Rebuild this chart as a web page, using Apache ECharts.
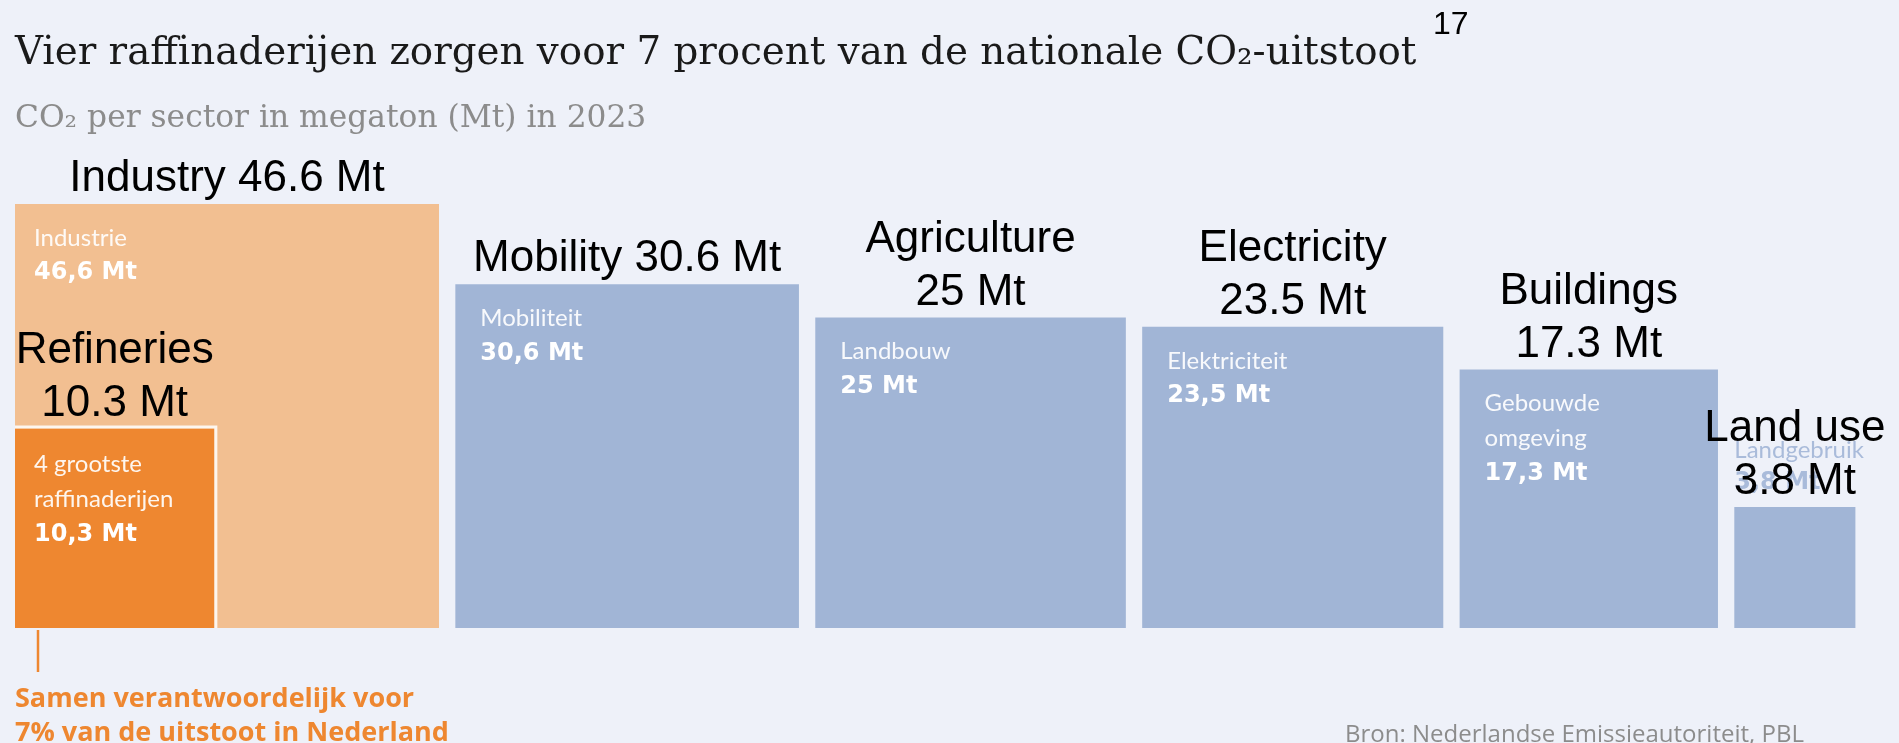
<!DOCTYPE html>
<html>
<head>
<meta charset="utf-8">
<script src="https://cdn.jsdelivr.net/npm/echarts@6/dist/echarts.min.js"></script>
<style>
html,body{margin:0;padding:0;background:#EEF1F9;}
#c{width:1899px;height:743px;}
</style>
</head>
<body>
<div id="c"></div>
<script>
// ---- data ----
const categories = ['Industrie', 'Mobiliteit', 'Landbouw', 'Elektriciteit', 'Gebouwde\nomgeving', 'Landgebruik'];
const emissionsMt = [46.6, 30.6, 25, 23.5, 17.3, 3.8];
const valueLabels = ['46,6 Mt', '30,6 Mt', '25 Mt', '23,5 Mt', '17,3 Mt', '3,8 Mt'];
const englishLabels = ['Industry 46.6 Mt', 'Mobility 30.6 Mt', 'Agriculture\n25 Mt', 'Electricity\n23.5 Mt', 'Buildings\n17.3 Mt', 'Land use\n3.8 Mt'];
const refineryCategory = '4 grootste\nraffinaderijen';
const refineryMt = [10.3];
const refineryValueLabel = '10,3 Mt';
const refineryEnglishLabel = 'Refineries\n10.3 Mt';

// ---- styles ----
const BG = '#EEF1F9';
const INDUSTRY_COLOR = '#F2BF91';
const SECTOR_COLOR = '#A1B5D6';
const REFINERY_COLOR = '#EE8730';
const GAP = 0.263; // gap between squares, in sqrt(Mt) units

// square side ∝ sqrt(value): area ∝ emissions
let cursor = 0;
const sectorData = emissionsMt.map((v, i) => {
  const side = Math.sqrt(v);
  const item = [cursor, side, i];
  cursor += side + GAP;
  return item;
});
const refineryData = refineryMt.map(v => [0, Math.sqrt(v), 0]);

const EN_FONT = '44px "Liberation Sans", Arial, sans-serif';
const IN_FONT = '24px Lato, "Open Sans", sans-serif';
const IN_FONT_B = 'bold 24px "DejaVu Sans", "Open Sans", sans-serif';

function englishLabelEls(text, cx, top) {
  const lines = text.split('\n');
  return lines.map((ln, k) => ({
    type: 'text',
    z2: 10,
    style: {
      text: ln, x: cx, y: top - 25 - (lines.length - 1 - k) * 53,
      fill: '#000', font: EN_FONT, align: 'center', verticalAlign: 'middle'
    }
  }));
}

function innerLabelEls(nameText, valueText, x, y, color, step) {
  const lines = nameText.split('\n');
  const els = lines.map((ln, k) => ({
    type: 'text',
    style: { text: ln, x: x, y: y + k * step, fill: color, opacity: 0.92, font: IN_FONT, align: 'left', verticalAlign: 'middle' }
  }));
  els.push({
    type: 'text',
    style: { text: valueText, x: x, y: y + lines.length * step, fill: color, font: IN_FONT_B, align: 'left', verticalAlign: 'middle' }
  });
  return els;
}

function renderSector(params, api) {
  const x0 = api.value(0), s = api.value(1), idx = api.value(2);
  const tl = api.coord([x0, s]);
  const br = api.coord([x0 + s, 0]);
  const w = br[0] - tl[0], h = br[1] - tl[1];
  const color = idx === 0 ? INDUSTRY_COLOR : SECTOR_COLOR;
  const children = [{
    type: 'rect',
    shape: { x: tl[0], y: tl[1], width: w, height: h },
    style: { fill: color }
  }];
  if (h < 150) {
    // too small: label sits above the square, in a light tint of its colour
    const lines = categories[idx].split('\n');
    const els = innerLabelEls(categories[idx], valueLabels[idx], tl[0], tl[1] - 24 - lines.length * 33, '#A9BBDA', 33);
    els.forEach(e => { e.style.opacity = 1; });
    children.push(...els);
  } else {
    const pad = idx === 0 ? 19 : 25;
    children.push(...innerLabelEls(categories[idx], valueLabels[idx], tl[0] + pad, tl[1] + 34, '#FFFFFF', 35));
  }
  children.push(...englishLabelEls(englishLabels[idx], tl[0] + w / 2, tl[1]));
  return { type: 'group', children };
}

function renderRefinery(params, api) {
  const x0 = api.value(0), s = api.value(1);
  const tl = api.coord([x0, s]);
  const br = api.coord([x0 + s, 0]);
  const w = br[0] - tl[0], h = br[1] - tl[1];
  const children = [
    { type: 'rect', shape: { x: tl[0], y: tl[1], width: w, height: h }, style: { fill: REFINERY_COLOR } },
    { type: 'polyline', shape: { points: [[tl[0], tl[1] - 1.5], [br[0] + 1.5, tl[1] - 1.5], [br[0] + 1.5, br[1]]] },
      style: { stroke: 'rgba(255,255,255,0.85)', lineWidth: 3, fill: null } }
  ];
  children.push(...innerLabelEls(refineryCategory, refineryValueLabel, tl[0] + 19, tl[1] + 36, '#FFFFFF', 35));
  children.push(...englishLabelEls(refineryEnglishLabel, tl[0] + w / 2, tl[1]));
  return { type: 'group', children };
}

const chart = echarts.init(document.getElementById('c'), null, { renderer: 'canvas' });
chart.setOption({
  backgroundColor: BG,
  animation: false,
  grid: { left: 15, right: 20.6, top: 131, bottom: 115 },
  xAxis: { type: 'value', min: 0, max: 30, show: false },
  yAxis: { type: 'value', min: 0, max: 8, show: false },
  series: [
    { type: 'custom', name: 'sectors', renderItem: renderSector, data: sectorData, z: 2, clip: false,
      encode: { x: [0], y: [1] } },
    { type: 'custom', name: 'refineries', renderItem: renderRefinery, data: refineryData, z: 3, clip: false,
      encode: { x: [0], y: [1] } }
  ],
  graphic: [
    { type: 'text', x: 15, y: 54, style: { text: 'Vier raffinaderijen zorgen voor 7 procent van de nationale CO\u2082-uitstoot',
      fill: '#1a1a1a', font: '38.8px "DejaVu Serif", "Liberation Serif", serif', verticalAlign: 'middle' } },
    { type: 'text', x: 1433, y: 25, style: { text: '17', fill: '#000', font: '32px "Liberation Sans", Arial, sans-serif', verticalAlign: 'middle' } },
    { type: 'text', x: 15, y: 119, style: { text: 'CO\u2082 per sector in megaton (Mt) in 2023',
      fill: '#8C8C8C', font: '31.3px "DejaVu Serif", "Liberation Serif", serif', verticalAlign: 'middle' } },
    { type: 'line', shape: { x1: 38, y1: 630, x2: 38, y2: 672 }, style: { stroke: REFINERY_COLOR, lineWidth: 2.5 } },
    { type: 'text', x: 15, y: 699, style: { text: 'Samen verantwoordelijk voor', fill: REFINERY_COLOR,
      font: 'bold 27px "Open Sans", sans-serif', verticalAlign: 'middle' } },
    { type: 'text', x: 15, y: 733, style: { text: '7% van de uitstoot in Nederland', fill: REFINERY_COLOR,
      font: 'bold 27px "Open Sans", sans-serif', verticalAlign: 'middle' } },
    { type: 'text', x: 1345, y: 735, style: { text: 'Bron: Nederlandse Emissieautoriteit, PBL', fill: '#8C8C8C',
      font: '24px "Open Sans", sans-serif', verticalAlign: 'middle' } }
  ]
});
</script>
</body>
</html>
